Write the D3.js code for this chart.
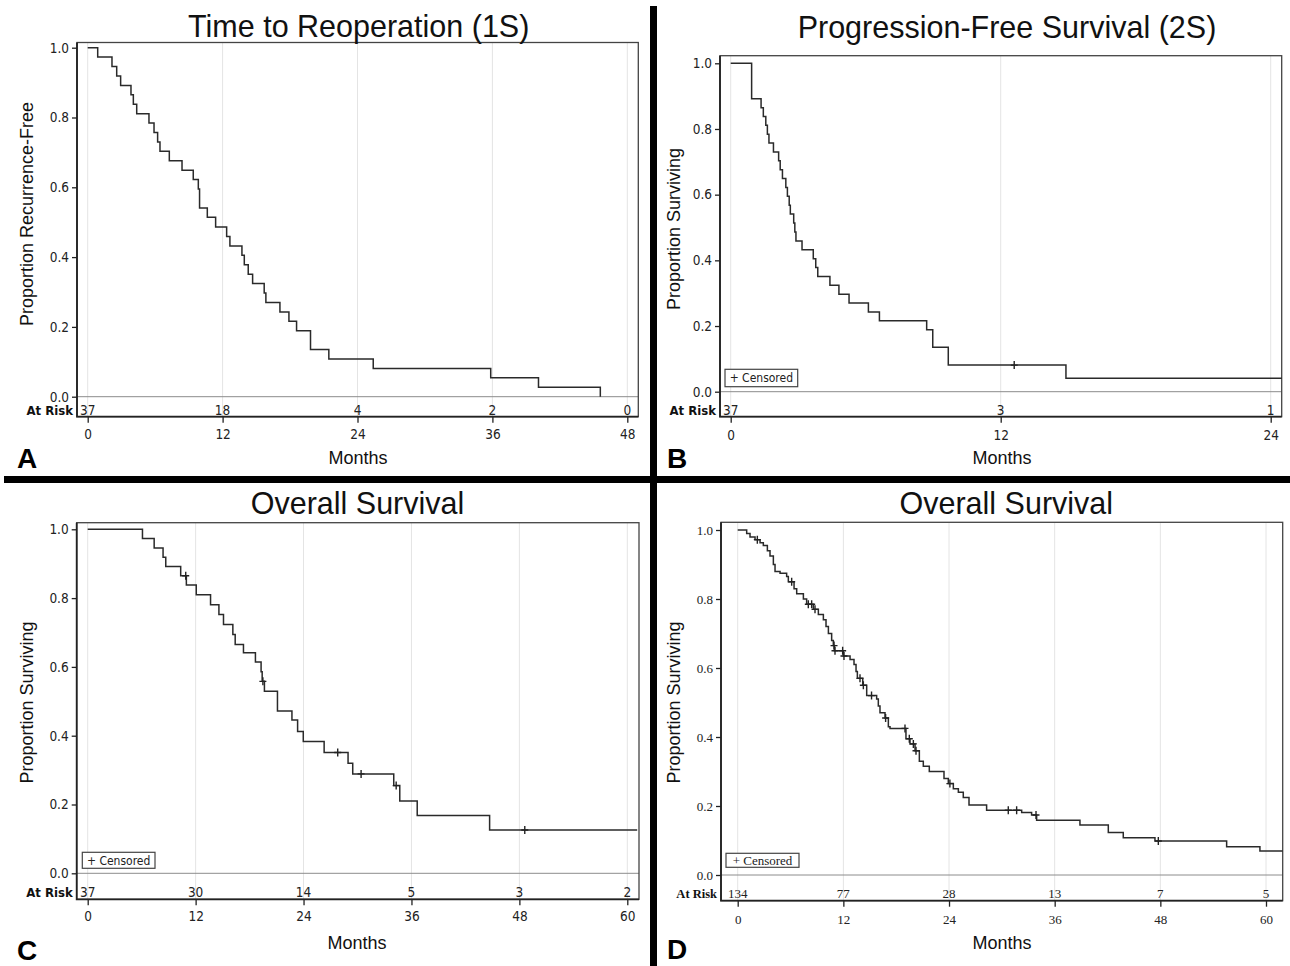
<!DOCTYPE html>
<html>
<head>
<meta charset="utf-8">
<script src="https://d3js.org/d3.v7.min.js"></script>
<style>
  body { margin: 0; background: #fff; }
</style>
</head>
<body>
<div id="container"></div>
<script>
  // ---- panel A: time to reoperation (1S) ----
  const aTimes = [0.89, 2.16, 2.58, 2.93, 3.85, 4.06, 4.36, 5.45, 5.90, 6.22, 6.43, 7.26, 8.39, 9.39, 9.84, 9.95,
                  10.64, 11.38, 12.36, 12.65, 13.72, 13.93, 14.28, 14.67, 15.70, 15.85, 17.10, 17.90, 18.58, 19.82,
                  21.45, 25.40, 35.85, 40.10, 45.60];
  const aSurv  = [0.973, 0.946, 0.919, 0.892, 0.865, 0.838, 0.811, 0.784, 0.757, 0.730, 0.703, 0.676, 0.649, 0.622, 0.595, 0.541,
                  0.514, 0.486, 0.459, 0.432, 0.405, 0.378, 0.351, 0.324, 0.297, 0.270, 0.243, 0.216, 0.189, 0.135,
                  0.108, 0.081, 0.054, 0.027, 0.000];
  const aEnd = 45.6;
  const aCens = [];
  const aTicks = [0, 12, 24, 36, 48];
  const aRisk = [37, 18, 4, 2, 0];

  // ---- panel B: progression-free survival (2S) ----
  const bTimes = [0.93, 1.35, 1.45, 1.56, 1.63, 1.70, 1.90, 2.13, 2.20, 2.30, 2.45, 2.52, 2.60, 2.65, 2.80, 2.85, 2.90,
                  3.17, 3.67, 3.78, 3.87, 4.41, 4.81, 5.26, 6.12, 6.61, 8.71, 8.98, 9.67, 14.90];
  const bSurv  = [0.892, 0.865, 0.838, 0.811, 0.784, 0.757, 0.730, 0.703, 0.676, 0.649, 0.622, 0.595, 0.568, 0.541, 0.514, 0.486, 0.459,
                  0.432, 0.405, 0.378, 0.351, 0.324, 0.297, 0.270, 0.243, 0.216, 0.189, 0.135, 0.081, 0.041];
  const bEnd = 24.5;
  const bCens = [12.6];
  const bTicks = [0, 12, 24];
  const bRisk = [37, 3, 1];

  // ---- panel C: overall survival ----
  const cTimes = [6.09, 7.39, 8.38, 8.68, 10.34, 10.97, 12.07, 13.66, 14.59, 15.10, 16.14, 16.40, 17.32, 18.65,
                  19.28, 19.40, 19.65, 21.10, 22.71, 23.34, 23.97, 26.29, 28.95, 29.47, 34.03, 34.70, 36.64, 44.69];
  const cSurv  = [0.973, 0.946, 0.919, 0.892, 0.865, 0.838, 0.810, 0.781, 0.752, 0.723, 0.694, 0.665, 0.641, 0.614,
                  0.586, 0.558, 0.529, 0.472, 0.446, 0.412, 0.383, 0.351, 0.320, 0.289, 0.255, 0.210, 0.168, 0.126];
  const cEnd = 61.1;
  const cCens = [10.9, 19.48, 27.8, 30.4, 34.3, 48.6];
  const cTicks = [0, 12, 24, 36, 48, 60];
  const cRisk = [37, 30, 14, 5, 3, 2];

  // ---- panel D: overall survival ----
  const dTimes = [1.02, 1.40, 1.97, 2.54, 2.91, 3.37, 3.67, 4.05, 4.24, 4.81, 5.56, 5.75, 6.40, 6.70, 7.46, 7.83,
                  8.59, 9.16, 9.73, 10.03, 10.30, 10.67, 10.86, 10.98, 12.00, 12.76, 13.21, 13.44, 13.59, 14.20,
                  14.65, 15.78, 15.97, 16.16, 16.73, 17.11, 17.30, 19.11, 19.57, 20.14, 20.63, 21.08, 21.76, 23.43,
                  23.92, 24.49, 25.06, 25.62, 26.27, 28.27, 32.25, 33.38, 33.95, 38.87, 42.09, 43.79, 47.39, 55.53, 59.31];
  const dSurv  = [0.990, 0.980, 0.972, 0.963, 0.955, 0.940, 0.925, 0.900, 0.880, 0.875, 0.865, 0.850, 0.830, 0.815, 0.800, 0.785,
                  0.770, 0.755, 0.740, 0.720, 0.700, 0.680, 0.665, 0.650, 0.635, 0.625, 0.610, 0.590, 0.570, 0.550,
                  0.520, 0.510, 0.490, 0.470, 0.455, 0.430, 0.425, 0.395, 0.380, 0.360, 0.330, 0.315, 0.300, 0.280,
                  0.265, 0.250, 0.240, 0.225, 0.203, 0.188, 0.181, 0.174, 0.159, 0.145, 0.123, 0.108, 0.0985, 0.082, 0.0696];
  const dEnd = 61.9;
  const dCens = [2.23, 6.13, 8.02, 8.40, 8.78, 10.94, 11.05, 11.92, 12.07, 13.89, 14.27, 15.2, 16.8, 19.0,
                 19.49, 19.95, 20.25, 24.1, 30.73, 31.68, 33.88, 47.77];
  const dTicks = [0, 12, 24, 36, 48, 60];
  const dRisk = [134, 77, 28, 13, 7, 5];

  const yTicks = [0, 0.2, 0.4, 0.6, 0.8, 1.0];

  // svg dimensions
  const width = 1290;
  const height = 966;

  const sans = "'Liberation Sans', Arial, Helvetica, sans-serif";
  const narrow = "'Liberation Sans Narrow', 'Arial Narrow', 'DejaVu Sans Condensed', sans-serif";
  const serif = "'Liberation Serif', 'Times New Roman', serif";

  const svg = d3.select("#container").append("svg")
    .attr("width", width)
    .attr("height", height);

  svg.append("rect")
    .attr("width", width)
    .attr("height", height)
    .attr("fill", "#fff");

  // layout of the four panels (pixel boxes measured on the figure)
  const panels = [
    { letter: "A", title: "Time to Reoperation (1S)", yLabel: "Proportion Recurrence-Free",
      times: aTimes, surv: aSurv, end: aEnd, cens: aCens, ticks: aTicks, risk: aRisk, font: narrow, fs: 13.5, legend: null,
      left: 77, top: 42.5, right: 638.3, bottom: 416.7, x0: 87.7, x1: 627.3, y1: 47.7, y0: 396.7,
      titleX: 358.7, titleY: 37, yLabelX: 33, yLabelY: 214, riskY: 414.5, tickY: 439.5,
      monthsX: 358, monthsY: 463.5, letterX: 17, letterY: 468 },
    { letter: "B", title: "Progression-Free Survival (2S)", yLabel: "Proportion Surviving",
      times: bTimes, surv: bSurv, end: bEnd, cens: bCens, ticks: bTicks, risk: bRisk, font: narrow, fs: 13.5,
      legend: { x: 725, y: 369.3, w: 72.7, h: 17.4, fs: 12 },
      left: 720, top: 55.7, right: 1281.7, bottom: 416.7, x0: 730.7, x1: 1270.7, y1: 63.3, y0: 391.7,
      titleX: 1007, titleY: 37.5, yLabelX: 680, yLabelY: 229, riskY: 414.5, tickY: 440,
      monthsX: 1002, monthsY: 464, letterX: 667, letterY: 468 },
    { letter: "C", title: "Overall Survival", yLabel: "Proportion Surviving",
      times: cTimes, surv: cSurv, end: cEnd, cens: cCens, ticks: cTicks, risk: cRisk, font: narrow, fs: 13.5,
      legend: { x: 82.3, y: 852.3, w: 72.7, h: 16, fs: 12 },
      left: 76.7, top: 522.7, right: 639, bottom: 899.3, x0: 87.7, x1: 627.3, y1: 529.3, y0: 873.3,
      titleX: 357.5, titleY: 514, yLabelX: 33, yLabelY: 702.5, riskY: 897, tickY: 921.5,
      monthsX: 357, monthsY: 948.5, letterX: 17, letterY: 960 },
    { letter: "D", title: "Overall Survival", yLabel: "Proportion Surviving",
      times: dTimes, surv: dSurv, end: dEnd, cens: dCens, ticks: dTicks, risk: dRisk, font: serif, fs: 13,
      legend: { x: 726, y: 853.3, w: 73, h: 14, fs: 13 },
      left: 721, top: 522.3, right: 1282.7, bottom: 900.7, x0: 737.7, x1: 1266, y1: 530, y0: 875,
      titleX: 1006.3, titleY: 514, yLabelX: 680, yLabelY: 702.5, riskY: 897.5, tickY: 924,
      monthsX: 1002, monthsY: 948.5, letterX: 667, letterY: 958.5 }
  ];

  panels.forEach(drawPanel);

  // thick black dividers between the panels
  svg.append("rect")
    .attr("x", 650)
    .attr("y", 6)
    .attr("width", 7)
    .attr("height", height - 6)
    .attr("fill", "#000");
  svg.append("rect")
    .attr("x", 4)
    .attr("y", 476)
    .attr("width", width - 4)
    .attr("height", 7)
    .attr("fill", "#000");

  function survAt(p, t) {
      var s = 1;
      p.times.forEach(function(tt, i) {
          if (tt <= t) s = p.surv[i];
      });
      return s;
  }

  function drawPanel(p) {
      var g = svg.append("g");
      var x = d3.scaleLinear().domain([0, p.ticks[p.ticks.length - 1]]).range([p.x0, p.x1]);
      var y = d3.scaleLinear().domain([0, 1]).range([p.y0, p.y1]);
      var fs = p.fs + "px";

      // light vertical grid lines
      g.selectAll(".grid")
        .data(p.ticks)
        .join("line")
        .attr("x1", d => x(d))
        .attr("x2", d => x(d))
        .attr("y1", p.top)
        .attr("y2", p.bottom)
        .attr("stroke", "#e4e4e4")
        .attr("stroke-width", 1);

      // zero reference line
      g.append("line")
        .attr("x1", p.left)
        .attr("x2", p.right)
        .attr("y1", y(0))
        .attr("y2", y(0))
        .attr("stroke", "#8c8c8c")
        .attr("stroke-width", 1);

      // frame
      g.append("rect")
        .attr("x", p.left)
        .attr("y", p.top)
        .attr("width", p.right - p.left)
        .attr("height", p.bottom - p.top)
        .attr("fill", "none")
        .attr("stroke", "#444")
        .attr("stroke-width", 1.3);

      // x axis
      var xAxis = g.append("g")
        .attr("transform", "translate(0," + p.bottom + ")")
        .call(d3.axisBottom(x).tickValues(p.ticks).tickSize(6).tickSizeOuter(0));
      xAxis.select(".domain").remove();
      xAxis.selectAll("line").attr("stroke", "#222").attr("stroke-width", 1.3);
      xAxis.selectAll("text")
        .attr("y", p.tickY - p.bottom)
        .attr("dy", 0)
        .attr("fill", "#222")
        .style("font-family", p.font)
        .style("font-size", fs);

      // y axis
      var yAxis = g.append("g")
        .attr("transform", "translate(" + p.left + ",0)")
        .call(d3.axisLeft(y).tickValues(yTicks).tickFormat(d3.format(".1f")).tickSize(5).tickPadding(3).tickSizeOuter(0));
      yAxis.select(".domain").remove();
      yAxis.selectAll("line").attr("stroke", "#222").attr("stroke-width", 1.3);
      yAxis.selectAll("text")
        .attr("fill", "#222")
        .style("font-family", p.font)
        .style("font-size", fs);

      // darker left and bottom edges
      g.append("path")
        .attr("d", "M" + p.left + "," + p.top + "V" + p.bottom + "H" + p.right)
        .attr("fill", "none")
        .attr("stroke", "#222")
        .attr("stroke-width", 1.8);

      // at risk row
      g.append("text")
        .attr("x", p.left - 4)
        .attr("y", p.riskY)
        .attr("text-anchor", "end")
        .attr("fill", "#111")
        .style("font-family", p.font)
        .style("font-weight", "bold")
        .style("font-size", (p.fs - 0.5) + "px")
        .text("At Risk");
      g.selectAll(".risk")
        .data(p.risk)
        .join("text")
        .attr("x", (d, i) => x(p.ticks[i]))
        .attr("y", p.riskY)
        .attr("text-anchor", "middle")
        .attr("fill", "#222")
        .style("font-family", p.font)
        .style("font-size", fs)
        .text(d => d);

      // survival step curve
      var pts = [[0, 1]];
      p.times.forEach(function(t, i) { pts.push([t, p.surv[i]]); });
      pts.push([p.end, p.surv[p.surv.length - 1]]);
      var line = d3.line()
        .x(d => x(d[0]))
        .y(d => y(d[1]))
        .curve(d3.curveStepAfter);
      g.append("path")
        .attr("d", line(pts))
        .attr("fill", "none")
        .attr("stroke", "#2a2a2a")
        .attr("stroke-width", 1.5);

      // censored marks
      g.selectAll(".cens")
        .data(p.cens)
        .join("path")
        .attr("d", function(t) {
            var cx = x(t), cy = y(survAt(p, t));
            return "M" + (cx - 3.5) + "," + cy + "H" + (cx + 3.5) + "M" + cx + "," + (cy - 4) + "V" + (cy + 4);
        })
        .attr("stroke", "#222")
        .attr("stroke-width", 1.4);

      // legend box
      if (p.legend) {
          g.append("rect")
            .attr("x", p.legend.x)
            .attr("y", p.legend.y)
            .attr("width", p.legend.w)
            .attr("height", p.legend.h)
            .attr("fill", "#fff")
            .attr("stroke", "#444")
            .attr("stroke-width", 1.2);
          g.append("text")
            .attr("x", p.legend.x + p.legend.w / 2)
            .attr("y", p.legend.y + p.legend.h / 2)
            .attr("dy", "0.36em")
            .attr("text-anchor", "middle")
            .attr("fill", "#222")
            .style("font-family", p.font)
            .style("font-size", p.legend.fs + "px")
            .text("+ Censored");
      }

      // titles and labels
      g.append("text")
        .attr("x", p.titleX)
        .attr("y", p.titleY)
        .attr("text-anchor", "middle")
        .attr("fill", "#111")
        .style("font-family", sans)
        .style("font-size", "30.5px")
        .text(p.title);

      g.append("text")
        .attr("transform", "translate(" + p.yLabelX + "," + p.yLabelY + ") rotate(-90)")
        .attr("text-anchor", "middle")
        .attr("fill", "#111")
        .style("font-family", sans)
        .style("font-size", "18px")
        .text(p.yLabel);

      g.append("text")
        .attr("x", p.monthsX)
        .attr("y", p.monthsY)
        .attr("text-anchor", "middle")
        .attr("fill", "#111")
        .style("font-family", sans)
        .style("font-size", "18px")
        .text("Months");

      g.append("text")
        .attr("x", p.letterX)
        .attr("y", p.letterY)
        .attr("fill", "#000")
        .style("font-family", sans)
        .style("font-weight", "bold")
        .style("font-size", "28px")
        .text(p.letter);
  }
</script>
</body>
</html>
